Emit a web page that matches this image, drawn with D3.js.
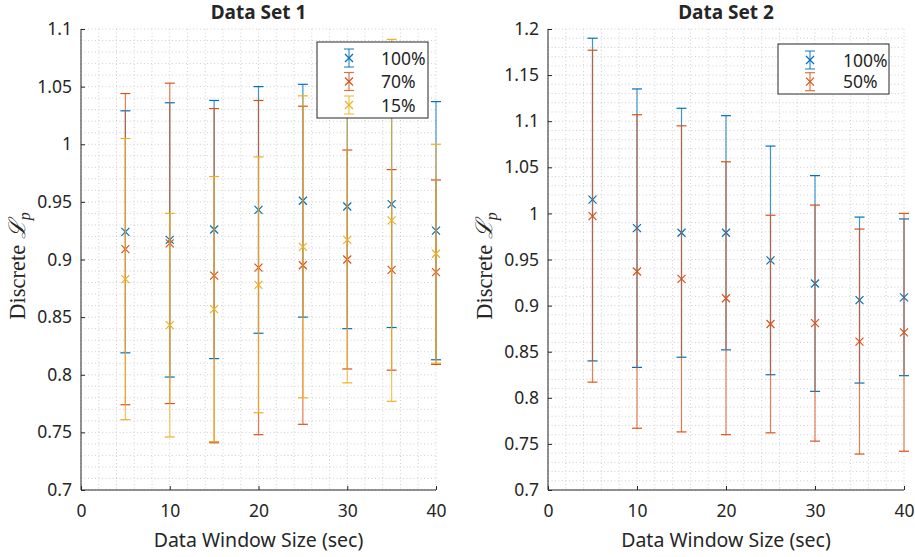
<!DOCTYPE html>
<html>
<head>
<meta charset="utf-8">
<script src="https://cdn.jsdelivr.net/npm/d3@7"></script>
<style>
  html, body { margin: 0; padding: 0; background: #fff; }
  svg { display: block; }
  text { font-family: "Noto Sans", "Open Sans", sans-serif; fill: #262626; }
</style>
</head>
<body>
<svg id="chart" width="915" height="557"></svg>
<script>
// Window sizes (sec) shared by both data sets
const windowSizes = [5, 10, 15, 20, 25, 30, 35, 40];

// Data Set 1: mean and half-width of the error bar
const set1Mean100 = [0.924, 0.917, 0.926, 0.943, 0.951, 0.946, 0.948, 0.925];
const set1Err100  = [0.105, 0.119, 0.112, 0.107, 0.101, 0.106, 0.107, 0.112];
const set1Mean70  = [0.909, 0.914, 0.886, 0.893, 0.895, 0.900, 0.891, 0.889];
const set1Err70   = [0.135, 0.139, 0.145, 0.145, 0.138, 0.095, 0.087, 0.080];
const set1Mean15  = [0.883, 0.843, 0.857, 0.878, 0.911, 0.917, 0.934, 0.905];
const set1Err15   = [0.122, 0.097, 0.115, 0.111, 0.131, 0.124, 0.157, 0.095];

// Data Set 2
const set2Mean100 = [1.015, 0.984, 0.979, 0.979, 0.949, 0.924, 0.906, 0.909];
const set2Err100  = [0.175, 0.151, 0.135, 0.127, 0.124, 0.117, 0.090, 0.085];
const set2Mean50  = [0.997, 0.937, 0.929, 0.908, 0.880, 0.881, 0.861, 0.871];
const set2Err50   = [0.180, 0.170, 0.166, 0.148, 0.118, 0.128, 0.122, 0.129];

// Tick values
const xTicks = [0, 10, 20, 30, 40];
const yTicks1 = [0.7, 0.75, 0.8, 0.85, 0.9, 0.95, 1, 1.05, 1.1];
const yTicks2 = [0.7, 0.75, 0.8, 0.85, 0.9, 0.95, 1, 1.05, 1.1, 1.15, 1.2];

const colors = { blue: "#0072BD", orange: "#D95319", yellow: "#EDB120" };
const axisColor = "#262626";

const svg = d3.select("#chart");

function drawPanel(opts) {
  const { left, right, top, bottom, yDomain, yTicks, title, series, legend } = opts;
  const x = d3.scaleLinear().domain([0, 40]).range([left, right]);
  const y = d3.scaleLinear().domain(yDomain).range([bottom, top]);
  const g = svg.append("g");

  // minor grid
  const minorX = d3.range(0, 40.001, 2);
  const minorY = d3.range(Math.round(yDomain[0] * 100), Math.round(yDomain[1] * 100) + 1).map(v => v / 100);
  g.append("g").selectAll("line").data(minorX).join("line")
    .attr("x1", d => x(d)).attr("x2", d => x(d))
    .attr("y1", top).attr("y2", bottom)
    .attr("stroke", "#c4c4c4").attr("stroke-width", 0.8).attr("stroke-dasharray", "1 2.5");
  g.append("g").selectAll("line").data(minorY).join("line")
    .attr("x1", left).attr("x2", right)
    .attr("y1", d => y(d)).attr("y2", d => y(d))
    .attr("stroke", "#c4c4c4").attr("stroke-width", 0.8).attr("stroke-dasharray", "1 2.5");

  // error bars and markers
  const capHalf = 5;
  series.forEach(s => {
    const pts = windowSizes.map((w, i) => ({ w, m: s.mean[i], e: s.err[i] }));
    const sg = g.append("g").attr("stroke", s.color).attr("fill", "none").attr("stroke-width", 1.2);
    sg.selectAll("line.v").data(pts).join("line").attr("class", "v")
      .attr("x1", d => x(d.w)).attr("x2", d => x(d.w))
      .attr("y1", d => y(d.m - d.e)).attr("y2", d => y(d.m + d.e))
      .attr("stroke-opacity", 0.75);
    sg.selectAll("line.cu").data(pts).join("line").attr("class", "cu")
      .attr("x1", d => x(d.w) - capHalf).attr("x2", d => x(d.w) + capHalf)
      .attr("y1", d => y(d.m + d.e)).attr("y2", d => y(d.m + d.e));
    sg.selectAll("line.cl").data(pts).join("line").attr("class", "cl")
      .attr("x1", d => x(d.w) - capHalf).attr("x2", d => x(d.w) + capHalf)
      .attr("y1", d => y(d.m - d.e)).attr("y2", d => y(d.m - d.e));
    sg.selectAll("path.mk").data(pts).join("path").attr("class", "mk")
      .attr("d", d => {
        const cx = x(d.w), cy = y(d.m), r = 4;
        return `M${cx - r},${cy - r}L${cx + r},${cy + r}M${cx - r},${cy + r}L${cx + r},${cy - r}`;
      });
  });

  // axes (ticks pointing inward)
  const xAxis = d3.axisBottom(x).tickValues(xTicks).tickSize(-4).tickPadding(15).tickFormat(d3.format("d"));
  const yAxis = d3.axisLeft(y).tickValues(yTicks).tickSize(-4).tickPadding(9).tickFormat(d => d3.format("")(+d.toFixed(2)));
  const xa = g.append("g").attr("transform", `translate(0,${bottom})`).call(xAxis);
  const ya = g.append("g").attr("transform", `translate(${left},0)`).call(yAxis);
  [xa, ya].forEach(a => {
    a.select(".domain").attr("stroke", axisColor).attr("stroke-width", 1);
    a.selectAll(".tick line").attr("stroke", axisColor);
    a.selectAll(".tick text").attr("fill", axisColor)
      .style("font-family", '"Noto Sans", sans-serif').style("font-size", "17.5px");
  });
  xa.select(".domain").attr("d", `M${left},0H${right}`);
  ya.select(".domain").attr("d", `M0,${bottom}V${top}`);

  // title
  g.append("text").attr("x", (left + right) / 2).attr("y", 18.5)
    .attr("text-anchor", "middle").style("font-size", "19px").style("font-weight", "bold")
    .attr("fill", "#000").text(title);

  // x label
  g.append("text").attr("x", (left + right) / 2).attr("y", 547)
    .attr("text-anchor", "middle").style("font-size", "19.5px").text("Data Window Size (sec)");

  // y label: Discrete ℒ_p in serif
  const yl = g.append("text")
    .attr("transform", `translate(${left - 56},266) rotate(-90)`)
    .attr("text-anchor", "middle")
    .style("font-family", '"Liberation Serif", "DejaVu Serif", serif');
  yl.append("tspan").style("font-size", "22.5px").text("Discrete ");
  yl.append("tspan").style("font-style", "italic").style("font-size", "23px").text("ℒ");
  yl.append("tspan").attr("dy", 5).style("font-style", "italic").style("font-size", "16px").text("p");

  // legend
  const lg = g.append("g");
  lg.append("rect").attr("x", legend.x).attr("y", legend.y)
    .attr("width", legend.w).attr("height", legend.h)
    .attr("fill", "#fff").attr("stroke", "#262626").attr("stroke-width", 1);
  series.forEach((s, i) => {
    const cy = legend.y + legend.firstRow + i * legend.rowStep;
    const ix = legend.iconX;
    const eg = lg.append("g").attr("stroke", s.color).attr("fill", "none").attr("stroke-width", 1.2);
    eg.append("line").attr("x1", ix).attr("x2", ix).attr("y1", cy - 9).attr("y2", cy + 9).attr("stroke-opacity", 0.8);
    eg.append("line").attr("x1", ix - 5).attr("x2", ix + 5).attr("y1", cy - 9).attr("y2", cy - 9).attr("stroke-opacity", 0.8);
    eg.append("line").attr("x1", ix - 5).attr("x2", ix + 5).attr("y1", cy + 9).attr("y2", cy + 9).attr("stroke-opacity", 0.8);
    eg.append("path").attr("d", `M${ix - 4},${cy - 4}L${ix + 4},${cy + 4}M${ix - 4},${cy + 4}L${ix + 4},${cy - 4}`);
    lg.append("text").attr("x", legend.textX).attr("y", cy + 6.5)
      .style("font-size", "17.5px").attr("fill", "#000").text(s.name);
  });
}

drawPanel({
  left: 81, right: 436, top: 29, bottom: 490,
  yDomain: [0.7, 1.1], yTicks: yTicks1, title: "Data Set 1",
  series: [
    { name: "100%", mean: set1Mean100, err: set1Err100, color: colors.blue },
    { name: "70%",  mean: set1Mean70,  err: set1Err70,  color: colors.orange },
    { name: "15%",  mean: set1Mean15,  err: set1Err15,  color: colors.yellow }
  ],
  legend: { x: 317, y: 42, w: 111, h: 76, firstRow: 16, rowStep: 23.5, iconX: 349, textX: 381 }
});

drawPanel({
  left: 548, right: 904, top: 29, bottom: 490,
  yDomain: [0.7, 1.2], yTicks: yTicks2, title: "Data Set 2",
  series: [
    { name: "100%", mean: set2Mean100, err: set2Err100, color: colors.blue },
    { name: "50%",  mean: set2Mean50,  err: set2Err50,  color: colors.orange }
  ],
  legend: { x: 778, y: 44, w: 111, h: 50, firstRow: 16, rowStep: 21.7, iconX: 810, textX: 843 }
});
</script>
</body>
</html>
